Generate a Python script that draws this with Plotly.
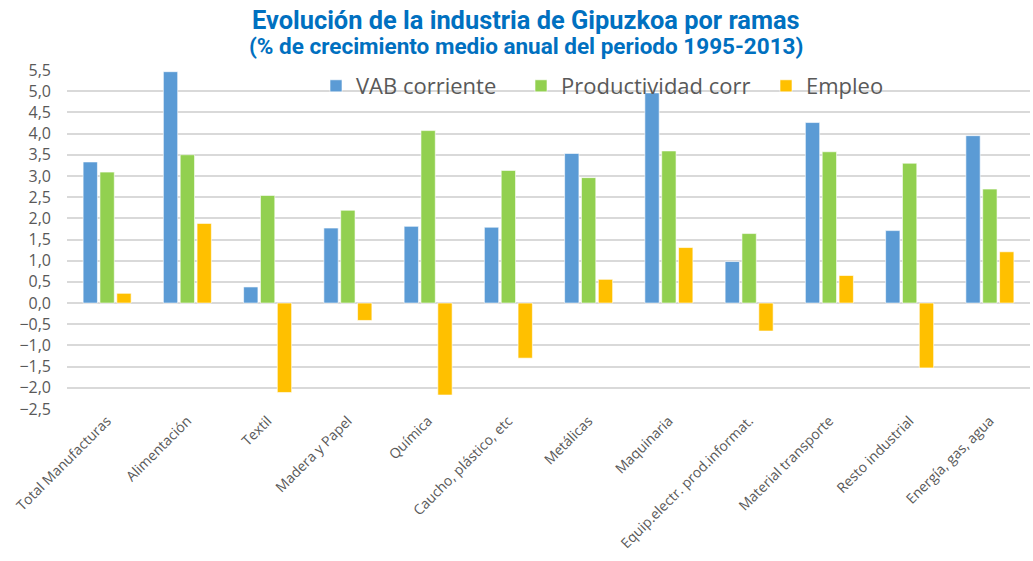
import plotly.graph_objects as go

categories = ["Total Manufacturas", "Alimentación", "Textil", "Madera y Papel", "Química",
              "Caucho, plástico, etc", "Metálicas", "Maquinaria", "Equip.electr. prod.informat.",
              "Material transporte", "Resto industrial", "Energía, gas, agua"]
vab = [3.33, 5.46, 0.38, 1.77, 1.81, 1.79, 3.53, 4.96, 0.98, 4.26, 1.71, 3.95]
productividad = [3.09, 3.50, 2.54, 2.19, 4.07, 3.13, 2.96, 3.59, 1.64, 3.57, 3.30, 2.69]
empleo = [0.23, 1.88, -2.11, -0.41, -2.17, -1.30, 0.56, 1.31, -0.66, 0.65, -1.53, 1.21]
series_names = ["VAB corriente", "Productividad corr", "Empleo"]
colors = ["#5B9BD5", "#92D050", "#FFC000"]
legend_ids = ["legend", "legend2", "legend3"]
legend_left_px = [316, 521, 766]
title_line1 = "Evolución de la industria de Gipuzkoa por ramas"
title_line2 = "(% de crecimiento medio anual del periodo 1995-2013)"

W, H = 1033, 561
ML, MR, MT, MB = 67, 3, 70, 152
PW, PH = W - ML - MR, H - MT - MB
TITLE_CX = 526

fig = go.Figure()
for name, vals, col, lg in zip(series_names, [vab, productividad, empleo], colors, legend_ids):
    fig.add_trace(go.Bar(x=categories, y=vals, name=name, marker_color=col, legend=lg,
                         showlegend=True,
                         marker_line_color="rgba(255,255,255,0.6)", marker_line_width=1))

leg_font = dict(family="Open Sans, Segoe UI, sans-serif", size=22, color="#595959")
legs = {}
for lg, px in zip(legend_ids, legend_left_px):
    legs[lg] = dict(x=(px - ML) / PW, y=(H - MB - 86) / PH,
                    xanchor="left", yanchor="middle", font=leg_font, visible=True,
                    bgcolor="rgba(255,255,255,0)", orientation="h")

title_family = "Liberation Sans Narrow, Roboto, Arial"
annotations = [
    dict(text="<b>" + title_line1 + "</b>", xref="paper", yref="paper",
         x=(TITLE_CX - ML) / PW, y=(H - MB - 20) / PH, xanchor="center", yanchor="middle",
         showarrow=False, font=dict(family=title_family, size=25.4, color="#0070C0")),
    dict(text="<b>" + title_line2 + "</b>", xref="paper", yref="paper",
         x=(TITLE_CX - ML) / PW, y=(H - MB - 46) / PH, xanchor="center", yanchor="middle",
         showarrow=False, font=dict(family=title_family, size=22.5, color="#0070C0")),
]

fig.update_layout(
    width=W, height=H,
    paper_bgcolor="white", plot_bgcolor="white",
    separators=",.", showlegend=True,
    barmode="group", bargap=0.37, bargroupgap=0.15,
    margin=dict(l=ML, r=MR, t=MT, b=MB, autoexpand=False),
    font=dict(family="Open Sans, sans-serif", color="#595959"),
    annotations=annotations,
    **legs,
)
fig.update_yaxes(range=[-2.5, 5.5], dtick=0.5, tick0=0, tickformat=".1f", automargin=False,
                 showgrid=True, gridcolor="#D9D9D9", gridwidth=2,
                 zeroline=True, zerolinecolor="#D9D9D9", zerolinewidth=2,
                 tickfont=dict(size=16, color="#595959"), ticks="", showline=False,
                 ticklabelstandoff=15)
fig.update_xaxes(tickangle=-45, tickfont=dict(size=14, color="#595959"), showline=False,
                 ticks="", automargin=False)

fig.write_html("out.html", config={"displayModeBar": False},
               post_script="document.body.style.margin='0';document.body.style.overflow='hidden';")
